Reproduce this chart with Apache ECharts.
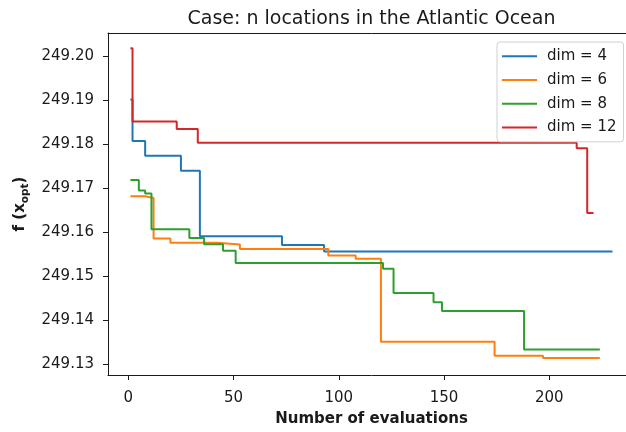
<!DOCTYPE html>
<html>
<head>
<meta charset="utf-8">
<script src="https://cdn.jsdelivr.net/npm/echarts@6/dist/echarts.min.js"></script>
<style>
  html, body { margin: 0; padding: 0; background: #fff; overflow: hidden; }
  /* the plot frame runs past the right edge of the page, so the canvas is wider than the window */
  #chart { width: 645px; height: 432px; }
</style>
</head>
<body>
<div id="chart"></div>
<script>
// Best objective value found so far, recorded at the evaluations where it improved
// (the last entry of each list is the final evaluation of the run).
const evals4  = [1, 2, 8, 25, 34, 73, 93, 230];
const values4 = [249.1902, 249.1808, 249.1774, 249.1740, 249.1591, 249.1571, 249.1556, 249.1556];

const evals6  = [1, 8, 12, 20, 42, 53, 95, 108, 120, 174, 197, 224];
const values6 = [249.1682, 249.1678, 249.1586, 249.1576, 249.1572, 249.1562, 249.1547, 249.1540, 249.1351, 249.1319, 249.1314, 249.1314];

const evals8  = [1, 5, 8, 11, 29, 36, 45, 51, 121, 126, 145, 149, 188, 224];
const values8 = [249.1719, 249.1695, 249.1688, 249.1607, 249.1587, 249.1573, 249.1558, 249.1530, 249.1517, 249.1462, 249.1441, 249.1421, 249.1333, 249.1333];

const evals12  = [1, 2, 23, 33, 213, 218, 221];
const values12 = [249.2019, 249.1852, 249.1835, 249.1804, 249.1791, 249.1644, 249.1644];

const seriesNames = ['dim = 4', 'dim = 6', 'dim = 8', 'dim = 12'];
const seriesColors = ['#1f77b4', '#ff7f0e', '#2ca02c', '#d62728'];

const xTicks = [0, 50, 100, 150, 200];
const yTicks = [249.13, 249.14, 249.15, 249.16, 249.17, 249.18, 249.19, 249.20];

const FONT = 'DejaVu Sans';
const INK = '#1a1a1a';
const FS = 15;
const X_MIN = -9.65, X_MAX = 240.7;

const runs = [[evals4, values4], [evals6, values6], [evals8, values8], [evals12, values12]];

const chart = echarts.init(document.getElementById('chart'), null, { renderer: 'canvas' });

chart.setOption({
  animation: false,
  backgroundColor: '#fff',
  textStyle: { fontFamily: FONT },
  graphic: [{
    type: 'text',
    x: 371.5,
    y: 19,
    style: {
      text: 'Case: n locations in the Atlantic Ocean',
      fontFamily: FONT,
      fontSize: 19,
      fill: INK,
      textAlign: 'center',
      textVerticalAlign: 'middle'
    }
  }],
  grid: { left: 108, top: 33, width: 527, height: 344, show: false },
  legend: {
    orient: 'vertical',
    left: 497, top: 42,
    padding: [5, 7, 5, 5],
    itemGap: 5,
    itemWidth: 35,
    itemHeight: 2,
    borderColor: '#d0d0d0',
    borderWidth: 1,
    borderRadius: 3,
    backgroundColor: 'rgba(255,255,255,0.8)',
    textStyle: { fontFamily: FONT, fontSize: FS, color: INK, lineHeight: 18.7, padding: [0, 0, 0, 5] },
    data: seriesNames.map(n => ({ name: n, icon: 'rect' }))
  },
  xAxis: [{
    type: 'value',
    min: X_MIN, max: X_MAX,
    name: 'Number of evaluations',
    nameLocation: 'middle',
    nameGap: 37,
    nameTextStyle: { fontFamily: FONT, fontSize: FS, fontWeight: 'bold', color: INK },
    axisLine: { show: true, onZero: false, lineStyle: { color: INK, width: 1 } },
    axisTick: { show: true, length: 5, customValues: xTicks, lineStyle: { color: INK, width: 1 } },
    axisLabel: { customValues: xTicks, margin: 16, fontFamily: FONT, fontSize: FS, color: INK },
    splitLine: { show: false }
  }, {
    // top spine of the frame
    type: 'value',
    position: 'top',
    min: X_MIN, max: X_MAX,
    axisLine: { show: true, onZero: false, lineStyle: { color: INK, width: 1 } },
    axisTick: { show: false },
    axisLabel: { show: false },
    splitLine: { show: false }
  }],
  yAxis: {
    type: 'value',
    min: 249.12752, max: 249.20535,
    name: '{a|f (x}{s|opt}{a|)}',
    nameLocation: 'middle',
    nameRotate: 90,
    nameGap: 79,
    nameTextStyle: {
      fontFamily: FONT, color: INK,
      rich: {
        a: { fontFamily: FONT, fontSize: FS, fontWeight: 'bold', color: INK },
        s: { fontFamily: FONT, fontSize: 10.5, fontWeight: 'bold', color: INK, verticalAlign: 'bottom', padding: [0, 0, -3, 0] }
      }
    },
    axisLine: { show: true, onZero: false, lineStyle: { color: INK, width: 1 } },
    axisTick: { show: true, length: 5, customValues: yTicks, lineStyle: { color: INK, width: 1 } },
    axisLabel: {
      customValues: yTicks, margin: 14, fontFamily: FONT, fontSize: FS, color: INK,
      formatter: v => v.toFixed(2)
    },
    splitLine: { show: false }
  },
  series: runs.map(([xs, ys], i) => ({
    name: seriesNames[i],
    type: 'line',
    xAxisIndex: 0,
    step: 'end',
    symbol: 'none',
    smooth: false,
    clip: true,
    color: seriesColors[i],
    lineStyle: { color: seriesColors[i], width: 2 },
    data: xs.map((x, k) => [x, ys[k]])
  }))
});
</script>
</body>
</html>
